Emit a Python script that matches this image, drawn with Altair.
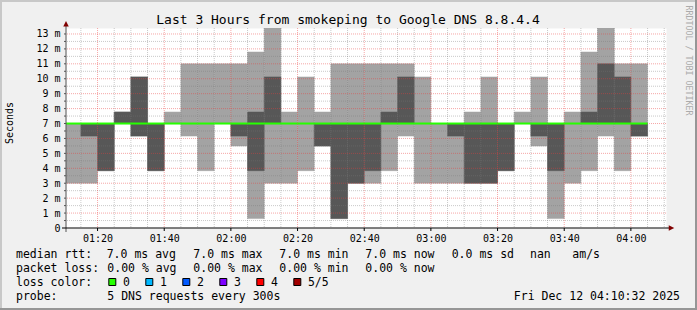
import altair as alt
import pandas as pd

# ---------------- data ----------------
bin_times = ["01:10", "01:15", "01:20", "01:25", "01:30", "01:35", "01:40", "01:45", "01:50", "01:55",
             "02:00", "02:05", "02:10", "02:15", "02:20", "02:25", "02:30", "02:35", "02:40", "02:45",
             "02:50", "02:55", "03:00", "03:05", "03:10", "03:15", "03:20", "03:25", "03:30", "03:35",
             "03:40", "03:45", "03:50", "03:55", "04:00"]
# sorted pings per 5-minute step (ms); the 3rd (median) is median_rtt
ping_1 = [3.0, 3.0, 3.84, 7.0, 6.16, 3.84, 7.0, 6.16, 3.84, 7.0,
          5.49, 0.63, 3.0, 3.0, 3.84, 5.49, 0.63, 3.0, 3.0, 3.84,
          6.16, 3.0, 3.0, 3.0, 3.0, 3.0, 3.84, 7.0, 5.49, 0.63,
          3.0, 3.84, 6.16, 3.84, 6.16]
ping_2 = [7.0, 6.16, 3.84, 7.0, 6.16, 3.84, 7.0, 7.0, 7.0, 7.0,
          6.16, 3.84, 7.0, 7.0, 7.0, 5.49, 0.63, 3.0, 3.84, 7.0,
          7.0, 7.0, 7.0, 6.16, 3.0, 3.0, 3.84, 7.0, 6.16, 3.84,
          7.0, 7.0, 7.0, 7.0, 6.16]
ping_4 = [7.0, 7.0, 7.0, 7.77, 10.12, 7.0, 7.0, 7.0, 7.0, 7.0,
          7.0, 7.77, 10.12, 7.0, 7.0, 7.0, 7.0, 7.0, 7.0, 7.77,
          10.12, 7.0, 7.0, 7.0, 7.0, 7.0, 7.0, 7.0, 7.0, 7.0,
          7.0, 7.77, 11.0, 10.12, 7.0]
ping_5 = [7.0, 7.0, 7.0, 7.77, 10.12, 7.0, 7.77, 11.0, 11.0, 11.0,
          11.0, 11.79, 13.4, 7.77, 10.12, 7.77, 11.0, 11.0, 11.0, 11.0,
          11.0, 10.12, 7.0, 7.0, 7.77, 10.12, 7.0, 7.77, 10.12, 7.0,
          7.77, 11.79, 13.4, 11.0, 11.0]
median_rtt = [7.0, 7.0, 7.0, 7.0, 7.0, 7.0, 7.0, 7.0, 7.0, 7.0,
              7.0, 7.0, 7.0, 7.0, 7.0, 7.0, 7.0, 7.0, 7.0, 7.0,
              7.0, 7.0, 7.0, 7.0, 7.0, 7.0, 7.0, 7.0, 7.0, 7.0,
              7.0, 7.0, 7.0, 7.0, 7.0]
loss_per_step = ["0"] * len(bin_times)

loss_labels = ["0", "1", "2", "3", "4", "5/5"]
loss_colors = ["#26ff00", "#00b8ff", "#0059ff", "#7e00ff", "#ff0000", "#a10000"]

x_tick_labels = ["01:20", "01:40", "02:00", "02:20", "02:40", "03:00", "03:20", "03:40", "04:00"]
y_tick_values = [0, 1, 2, 3, 4, 5, 6, 7, 8, 9, 10, 11, 12, 13]

title_text = "Last 3 Hours from smokeping to Google DNS 8.8.4.4"
line1 = ["median rtt:", "7.0 ms avg", "7.0 ms max", "7.0 ms min", "7.0 ms now", "0.0 ms sd", "nan", "am/s"]
line2 = ["packet loss:", "0.00 % avg", "0.00 % max", "0.00 % min", "0.00 % now"]
line3 = "loss color:"
line4 = ["probe:", "5 DNS requests every 300s"]
date_text = "Fri Dec 12 04:10:32 2025"
watermark = "RRDTOOL / TOBI OETIKER"

STEP = 5  # minutes per probe round (300 s)


def to_min(s):
    h, m = s.split(":")
    return int(h) * 60 + int(m)


t0 = [to_min(s) for s in bin_times]
df = pd.DataFrame({
    "t0": t0,
    "t1": [t + STEP for t in t0],
    "p1": ping_1, "p2": ping_2, "p4": ping_4, "p5": ping_5,
    "median": median_rtt, "loss": loss_per_step,
})

X_START = to_min("01:10") + 32 / 60.0
X_END = X_START + 180
x_tick_values = [to_min(s) for s in x_tick_labels]
x_minor = [m for m in range(to_min("01:15"), to_min("04:10") + 1, 5) if m not in x_tick_values]
y_major = [v for v in y_tick_values if v > 0]
y_minor = [v + 0.5 for v in y_tick_values if v < 13]

MONO = "DejaVu Sans Mono"
LIGHT = "#a3a3a3"
DARK = "#575757"
MGRID = "rgba(235,60,60,0.45)"
GRID = "rgba(120,120,120,0.40)"

x_scale = alt.Scale(domain=[X_START, X_END], nice=False, zero=False)
y_scale = alt.Scale(domain=[0, 13.4], nice=False, zero=False)

x_axis = alt.Axis(values=x_tick_values, title=None, grid=False, domain=False, ticks=False,
                  labelFont=MONO, labelFontSize=10, labelColor="#000", labelPadding=5.5,
                  labelAngle=0, labelFlush=False,
                  labelExpr="(floor(datum.value/60) < 10 ? '0' : '') + floor(datum.value/60) + ':' + "
                            "(datum.value % 60 < 10 ? '0' : '') + (datum.value % 60)")
y_axis = alt.Axis(values=y_tick_values, title=None, grid=False, domain=False, ticks=False,
                  labelFont=MONO, labelFontSize=10, labelColor="#000", labelPadding=6,
                  labelBaseline="middle", labelFlush=False,
                  labelExpr="datum.value == 0 ? '0' : datum.value + ' m'")


def X(f):
    return alt.X(f, type="quantitative", scale=x_scale, axis=x_axis)


def Y(f):
    return alt.Y(f, type="quantitative", scale=y_scale, axis=y_axis)


base = alt.Chart(df)

light = base.transform_filter("datum.p5 > datum.p1").mark_rect(
    color=LIGHT, stroke=LIGHT, strokeWidth=0.5, clip=True
).encode(x=X("t0"), x2="t1", y=Y("p1"), y2="p5")

dark = base.transform_filter("datum.p4 > datum.p2").mark_rect(
    color=DARK, stroke=DARK, strokeWidth=0.5, clip=True
).encode(x=X("t0"), x2="t1", y=Y("p2"), y2="p4")


def hrules(vals, color):
    return alt.Chart(pd.DataFrame({"v": vals})).mark_rule(
        color=color, strokeWidth=1, strokeDash=[1, 1]).encode(y=Y("v"))


def vrules(vals, color):
    return alt.Chart(pd.DataFrame({"v": vals})).mark_rule(
        color=color, strokeWidth=1, strokeDash=[1, 1]).encode(x=X("v"))


grid_layers = [hrules(y_minor, GRID), vrules(x_minor, GRID),
               hrules(y_major, MGRID), vrules(x_tick_values, MGRID)]

median_line = base.mark_rule(strokeWidth=2, clip=True).encode(
    x=X("t0"), x2="t1", y=Y("median"),
    color=alt.Color("loss:N", scale=alt.Scale(domain=loss_labels, range=loss_colors), legend=None))

dummy = pd.DataFrame({"a": [0]})

# axis tick marks
ytick = alt.Chart(pd.DataFrame({"v": y_major + y_minor})).mark_rule(color="#555", strokeWidth=1).encode(
    y=Y("v"), x=alt.value(-2), x2=alt.value(0))
xtick = alt.Chart(pd.DataFrame({"v": x_tick_values})).mark_rule(color="#000", strokeWidth=1).encode(
    x=X("v"), y=alt.value(200), y2=alt.value(203))

y_axis_line = alt.Chart(dummy).mark_rule(color="#555", strokeWidth=1).encode(
    x=alt.value(0), y=alt.value(204), y2=alt.value(-3))
x_axis_line = alt.Chart(dummy).mark_rule(color="#000", strokeWidth=1).encode(
    x=alt.value(-4), x2=alt.value(603), y=alt.value(200))
arrow_up = alt.Chart(dummy).mark_point(shape="M-1,1L1,1L0,-1Z", filled=True, color="#800000",
                                       opacity=1, size=30).encode(x=alt.value(0), y=alt.value(-4.3))
arrow_right = alt.Chart(dummy).mark_point(shape="M-1,-1L-1,1L1,0Z", filled=True, color="#800000",
                                          opacity=1, size=30).encode(x=alt.value(605.5), y=alt.value(200))


def label(txt, x, y, size=11.5, align="left", baseline="alphabetic", angle=0, color="#000", font=MONO):
    return alt.Chart(dummy).mark_text(text=txt, align=align, baseline=baseline, fontSize=size,
                                      font=font, color=color, angle=angle).encode(
        x=alt.value(x), y=alt.value(y))


texts = [
    label(title_text, 282, -4, size=13, align="center"),
    label("Seconds", -56, 95, size=10, align="center", baseline="middle", angle=270),
    label(watermark, 622, -22.5, size=8.3, baseline="middle", angle=90, color="#ababab"),
]
l1x = [-50, 40.7, 127.3, 213.3, 299.3, 385.7, 464, 506.3]
for t, xx in zip(line1, l1x):
    texts.append(label(t, xx, 230.3))
l2x = [-50, 41.3, 127.3, 213.3, 299.3]
for t, xx in zip(line2, l2x):
    texts.append(label(t, xx, 244))
texts.append(label(line3, -50, 258))
for i, (lab, col) in enumerate(zip(loss_labels, loss_colors)):
    cx = 46.3 + 37 * i
    texts.append(alt.Chart(dummy).mark_point(shape="square", filled=True, color=col, opacity=1,
                                             size=49, stroke="#000", strokeWidth=1).encode(
        x=alt.value(cx), y=alt.value(254)))
    texts.append(label(lab, cx + 10.6, 258))
texts.append(label(line4[0], -50, 272))
texts.append(label(line4[1], 41.3, 272))
texts.append(label(date_text, 614, 272, align="right"))

borders = [
    alt.Chart(dummy).mark_rule(color="#c8c8c8", strokeWidth=2).encode(
        x=alt.value(-66), x2=alt.value(631), y=alt.value(-27)),
    alt.Chart(dummy).mark_rule(color="#c8c8c8", strokeWidth=2).encode(
        x=alt.value(-65), y=alt.value(-28), y2=alt.value(282)),
    alt.Chart(dummy).mark_rule(color="#969696", strokeWidth=2).encode(
        x=alt.value(-66), x2=alt.value(631), y=alt.value(281)),
    alt.Chart(dummy).mark_rule(color="#969696", strokeWidth=2).encode(
        x=alt.value(630), y=alt.value(-28), y2=alt.value(282)),
]

chart = alt.layer(
    light, dark, *grid_layers, median_line, ytick, xtick, y_axis_line, x_axis_line,
    arrow_up, arrow_right, *texts, *borders
).properties(
    width=600, height=200,
    padding={"left": 66, "top": 28, "right": 31, "bottom": 82},
    autosize=alt.AutoSizeParams(type="none"),
).configure(background="#f0f0f0").configure_view(fill="white", stroke="transparent")

chart.save("out.html", embed_options={"renderer": "svg", "actions": False})
